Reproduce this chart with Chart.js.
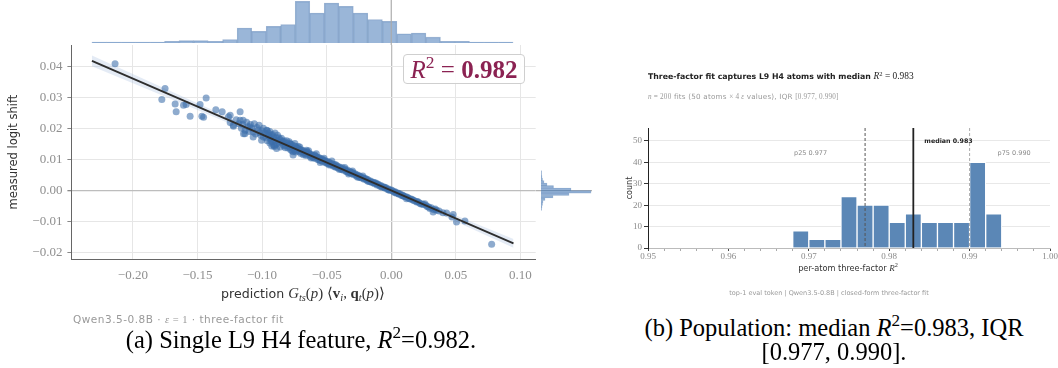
<!DOCTYPE html>
<html>
<head>
<meta charset="utf-8">
<script src="https://cdn.jsdelivr.net/npm/chart.js@4.4.1/dist/chart.umd.min.js"></script>
<style>
  body { margin: 0; width: 1058px; height: 368px; position: relative; background: #fff; overflow: hidden;
         font-family: "DejaVu Sans", sans-serif; }
  canvas, .t { position: absolute; }
  .t { white-space: nowrap; line-height: 1; }
  .c { transform: translate(-50%, -50%); }
  .l { transform: translateY(-50%); }
  .m { font-family: "Liberation Serif", serif; }
  sub { font-size: 70%; vertical-align: -0.3em; line-height: 0; }
  sup { font-size: 70%; vertical-align: 0.55em; line-height: 0; }
</style>
</head>
<body>
<canvas id="topHist" width="545" height="45" style="left:0;top:0"></canvas>
<canvas id="scatter" width="545" height="250" style="left:0;top:40px"></canvas>
<canvas id="sideHist" width="64" height="250" style="left:536px;top:40px"></canvas>
<canvas id="popHist" width="458" height="150" style="left:600px;top:120px"></canvas>

<div class="t" style="left:403px;top:54px;width:120px;height:28px;border:1px solid #cfcfcf;border-radius:4px;background:rgba(255,255,255,0.92)"></div>
<div class="t c m" style="left:464px;top:69px;font-size:25px;color:#8b2252"><i>R</i><sup>2</sup> = <b>0.982</b></div>

<div class="t c" style="left:303px;top:293px;font-size:12.6px;color:#333">prediction <span class="m" style="font-size:14.8px"><i>G</i><sub><i>ts</i></sub>(<i>p</i>) ⟨<b>v</b><sub><i>i</i></sub>, <b>q</b><sub><i>t</i></sub>(<i>p</i>)⟩</span></div>
<div class="t l" style="left:73px;top:320px;font-size:10.5px;letter-spacing:0.5px;color:#999">Qwen3.5-0.8B · <span class="m"><i>ε</i> = 1</span> · three-factor fit</div>
<div class="t c m" style="left:301px;top:340px;font-size:24.5px;color:#000">(a) Single L9 H4 feature, <i>R</i><sup>2</sup>=0.982.</div>

<div class="t l" style="left:648px;top:77px;font-size:7.8px;color:#222"><b>Three-factor fit captures L9 H4 atoms with median </b><span class="m" style="font-size:9.4px"><i>R</i><sup>2</sup> = 0.983</span></div>
<div class="t l" style="left:648px;top:97px;font-size:7.2px;letter-spacing:0.2px;color:#999"><span class="m"><i>n</i> = 200</span> fits (50 atoms <span class="m">× 4 <i>ε</i></span> values), IQR <span class="m">[0.977, 0.990]</span></div>
<div class="t c" style="left:848px;top:268px;font-size:8.2px;color:#333">per-atom three-factor <span class="m" style="font-size:9px"><i>R</i><sup>2</sup></span></div>
<div class="t c" style="left:829px;top:293px;font-size:6.5px;color:#999">top-1 eval token | Qwen3.5-0.8B | closed-form three-factor fit</div>
<div class="t c m" style="left:834px;top:328px;font-size:24.5px;color:#000">(b) Population: median <i>R</i><sup>2</sup>=0.983, IQR</div>
<div class="t c m" style="left:834px;top:352px;font-size:24.5px;color:#000">[0.977, 0.990].</div>

<script>
// ---- panel (a): single feature ----
// [prediction, measured logit shift]
const points = [
  [-0.2138, 0.0408], [-0.1776, 0.0293], [-0.1751, 0.0328], [-0.1673, 0.0278], [-0.1665, 0.0253],
  [-0.1608, 0.0274], [-0.1588, 0.0277], [-0.1557, 0.0239], [-0.1480, 0.0277], [-0.1466, 0.0239],
  [-0.1453, 0.0236], [-0.1433, 0.0298], [-0.1358, 0.0260], [-0.1309, 0.0253], [-0.1260, 0.0237],
  [-0.1247, 0.0242], [-0.1247, 0.0219], [-0.1224, 0.0210], [-0.1221, 0.0207], [-0.1170, 0.0253],
  [-0.1170, 0.0226], [-0.1147, 0.0226], [-0.1144, 0.0183], [-0.1133, 0.0183], [-0.1131, 0.0194],
  [-0.1095, 0.0205], [-0.1069, 0.0172], [-0.1023, 0.0210], [-0.1004, 0.0162], [-0.0965, 0.0194],
  [-0.0927, 0.0178], [-0.0901, 0.0146], [-0.0888, 0.0135], [-0.0837, 0.0156], [-0.0785, 0.0151],
  [-0.0760, 0.0114], [-0.0746, 0.0151], [-0.0708, 0.0140], [-0.0656, 0.0130], [-0.0630, 0.0114],
  [-0.0592, 0.0114], [-0.0553, 0.0103],
  [-0.120, 0.0228], [-0.118, 0.0215], [-0.116, 0.0200], [-0.115, 0.0212], [-0.112, 0.0220],
  [-0.110, 0.0190], [-0.108, 0.0200], [-0.106, 0.0215], [-0.105, 0.0182], [-0.103, 0.0195],
  [-0.101, 0.0178], [-0.099, 0.0200], [-0.097, 0.0170], [-0.095, 0.0184], [-0.093, 0.0158],
  [-0.0925, 0.0143], [-0.0905, 0.0142],
  [-0.098, 0.0185], [-0.096, 0.0160], [-0.095, 0.0176], [-0.094, 0.0190], [-0.093, 0.0165],
  [-0.092, 0.0158], [-0.091, 0.0172], [-0.090, 0.0185], [-0.089, 0.0150], [-0.088, 0.0162],
  [-0.087, 0.0170], [-0.086, 0.0140], [-0.085, 0.0155], [-0.084, 0.0148], [-0.083, 0.0160],
  [-0.082, 0.0138], [-0.081, 0.0152], [-0.080, 0.0145], [-0.079, 0.0140], [-0.078, 0.0132],
  [-0.077, 0.0148], [-0.076, 0.0136], [-0.075, 0.0130], [-0.074, 0.0142], [-0.073, 0.0128],
  [-0.072, 0.0135], [-0.071, 0.0125], [-0.070, 0.0131], [-0.069, 0.0122], [-0.068, 0.0127],
  [-0.067, 0.0118], [-0.066, 0.0123], [-0.065, 0.0116], [-0.064, 0.0121], [-0.063, 0.0110],
  [-0.062, 0.0117], [-0.061, 0.0107], [-0.060, 0.0112], [-0.059, 0.0104], [-0.058, 0.0109],
  [-0.057, 0.0100], [-0.056, 0.0106], [-0.055, 0.0097], [-0.054, 0.0102], [-0.053, 0.0093],
  [-0.052, 0.0098], [-0.051, 0.0090], [-0.050, 0.0094], [-0.049, 0.0087], [-0.048, 0.0091],
  [-0.047, 0.0083], [-0.046, 0.0087], [-0.045, 0.0079], [-0.044, 0.0084], [-0.043, 0.0075],
  [-0.042, 0.0080], [-0.041, 0.0072], [-0.040, 0.0076], [-0.039, 0.0069], [-0.038, 0.0073],
  [-0.037, 0.0065], [-0.036, 0.0069], [-0.035, 0.0061], [-0.034, 0.0066], [-0.033, 0.0058],
  [-0.032, 0.0062], [-0.031, 0.0054], [-0.030, 0.0058], [-0.029, 0.0051], [-0.028, 0.0054],
  [-0.027, 0.0047], [-0.026, 0.0050], [-0.025, 0.0044], [-0.024, 0.0046], [-0.023, 0.0040],
  [-0.022, 0.0042], [-0.021, 0.0036], [-0.020, 0.0039], [-0.019, 0.0033], [-0.018, 0.0035],
  [-0.017, 0.0029], [-0.016, 0.0031], [-0.015, 0.0026], [-0.014, 0.0027], [-0.013, 0.0022],
  [-0.012, 0.0024], [-0.011, 0.0018], [-0.010, 0.0020], [-0.009, 0.0015], [-0.008, 0.0016],
  [-0.007, 0.0011], [-0.006, 0.0012], [-0.005, 0.0008], [-0.004, 0.0009], [-0.003, 0.0004],
  [-0.002, 0.0005], [-0.001, 0.0001], [0.001, -0.0001], [0.002, -0.0005], [0.003, -0.0004],
  [0.004, -0.0009], [0.005, -0.0008], [0.006, -0.0012], [0.007, -0.0011], [0.008, -0.0016],
  [0.009, -0.0015], [0.010, -0.0019], [0.012, -0.0021], [0.014, -0.0026], [0.016, -0.0028],
  [0.018, -0.0033], [0.021, -0.0037], [0.023, -0.0043], [0.025, -0.0045], [0.028, -0.0052],
  [0.031, -0.0055], [0.033, -0.0062], [0.035, -0.0063],
  [-0.072, 0.0142], [-0.068, 0.0115], [-0.064, 0.0128], [-0.062, 0.0105], [-0.058, 0.0118],
  [-0.055, 0.0090], [-0.052, 0.0104], [-0.048, 0.0082], [-0.046, 0.0095], [-0.043, 0.0083],
  [-0.040, 0.0068], [-0.036, 0.0074], [-0.033, 0.0053], [-0.030, 0.0063], [-0.026, 0.0043],
  [-0.022, 0.0047], [-0.018, 0.0030], [-0.085, 0.0168], [-0.082, 0.0145], [-0.079, 0.0157],
  [-0.076, 0.0125], [-0.091, 0.0146], [-0.088, 0.0178], [-0.094, 0.0153],
  [-0.111, 0.0205], [-0.109, 0.0212], [-0.107, 0.0188], [-0.104, 0.0203], [-0.102, 0.0186],
  [-0.100, 0.0192], [-0.099, 0.0172], [-0.097, 0.0182], [-0.096, 0.0193], [-0.094, 0.0171],
  [-0.092, 0.0180], [-0.090, 0.0160], [-0.089, 0.0170], [-0.087, 0.0155], [-0.086, 0.0163],
  [-0.084, 0.0158], [-0.083, 0.0143], [-0.081, 0.0160], [-0.080, 0.0137], [-0.078, 0.0150],
  [-0.077, 0.0128], [-0.075, 0.0143], [-0.074, 0.0124], [-0.073, 0.0137], [-0.071, 0.0132],
  [-0.070, 0.0119], [-0.069, 0.0130], [-0.067, 0.0124], [-0.066, 0.0113], [-0.065, 0.0125],
  [-0.063, 0.0117], [-0.061, 0.0113], [-0.060, 0.0105], [-0.059, 0.0111], [-0.057, 0.0106],
  [-0.056, 0.0099], [-0.054, 0.0097], [-0.053, 0.0099], [-0.051, 0.0094], [-0.050, 0.0088],
  [-0.049, 0.0092], [-0.047, 0.0086], [-0.045, 0.0083], [-0.044, 0.0078], [-0.042, 0.0076],
  [-0.041, 0.0076], [-0.039, 0.0072], [-0.038, 0.0068], [-0.035, 0.0065], [-0.034, 0.0060],
  [-0.032, 0.0058], [-0.031, 0.0058], [-0.029, 0.0054], [-0.027, 0.0050], [-0.025, 0.0047],
  [-0.024, 0.0042], [-0.021, 0.0039], [-0.019, 0.0036], [-0.016, 0.0028], [-0.013, 0.0025],
  [-0.011, 0.0021], [-0.008, 0.0013], [-0.005, 0.0010], [-0.002, 0.0002], [0.000, 0.0002],
  [0.003, -0.0006], [0.006, -0.0010], [0.009, -0.0017], [0.011, -0.0020], [0.013, -0.0023],
  [0.015, -0.0027], [0.017, -0.0031], [0.020, -0.0035], [0.022, -0.0041], [0.024, -0.0043],
  [0.027, -0.0048], [0.029, -0.0053], [0.034, -0.0059], [0.037, -0.0066], [0.040, -0.0071],
  [0.047, -0.0085],
  [0.0118, -0.0026], [0.0196, -0.0037], [0.0260, -0.0042], [0.0299, -0.0058], [0.0324, -0.0069],
  [0.0428, -0.0072], [0.0479, -0.0077], [0.0505, -0.0101], [0.0570, -0.0098], [0.0777, -0.0173]
];

// fitted line and its confidence band
const fitX = [-0.2317, 0.0946];
const fitY = [0.0417, -0.0170];
const bandX = [-0.2317, -0.15, -0.08, -0.03, 0.02, 0.0946];
const bandUpper = [0.0434, 0.0281, 0.0151, 0.0060, -0.0029, -0.0156];
const bandLower = [0.0400, 0.0259, 0.0137, 0.0048, -0.0043, -0.0184];

const xTicksA = [-0.20, -0.15, -0.10, -0.05, 0.00, 0.05, 0.10];
const yTicksA = [-0.02, -0.01, 0.00, 0.01, 0.02, 0.03, 0.04];
const xRangeA = [-0.2476, 0.1118];
const yRangeA = [-0.0221, 0.0468];

// marginal histograms
const topBinStart = -0.2317, topBinWidth = 0.01124;
const topCounts = [1, 1, 1, 1, 1, 2, 3, 3, 2, 4, 18, 14, 20, 22, 50, 36, 48, 44, 36, 28, 26, 11, 12, 7, 2, 2, 1, 1, 1];
const sideBinStart = 0.0060, sideBinWidth = -0.0008;
const sideCounts = [1, 1, 2, 3, 6, 12, 25, 60, 100, 56, 24, 8, 4, 3, 2, 1];

// ---- panel (b): population ----
const binCenters = [0.969, 0.971, 0.973, 0.975, 0.977, 0.979, 0.981, 0.983, 0.985, 0.987, 0.989, 0.991, 0.993];
const binCounts = [8, 4, 4, 24, 20, 20, 12, 16, 12, 12, 12, 40, 16];
const quantiles = [0.977, 0.983, 0.990];
const quantileNames = ['p25', 'median', 'p75'];
const xTicksB = [0.95, 0.96, 0.97, 0.98, 0.99, 1.00];
const yTicksB = [0, 10, 20, 30, 40, 50];

const serif = 'Liberation Serif';
const sans = 'DejaVu Sans';
const fmt = v => (v < 0 ? '\u2212' : '') + Math.abs(v).toFixed(2);
// keep the plot areas exactly where the fixed paddings put them
const noPadV = s => { s.paddingTop = 0; s.paddingBottom = 0; };
const noPadH = s => { s.paddingLeft = 0; s.paddingRight = 0; };

// top marginal
new Chart(document.getElementById('topHist'), {
  type: 'bar',
  data: {
    datasets: [{
      data: topCounts.map((c, i) => ({ x: topBinStart + topBinWidth * (i + 0.5), y: c })),
      backgroundColor: 'rgba(125,162,205,0.78)',
      borderColor: 'rgba(80,122,175,0.55)',
      borderWidth: 0.8,
      barPercentage: 1, categoryPercentage: 1
    }]
  },
  options: {
    responsive: false, animation: false,
    layout: { padding: { left: 71.4, right: 9.3, top: 1, bottom: 2 } },
    plugins: { legend: { display: false }, tooltip: { enabled: false } },
    scales: {
      x: { type: 'linear', min: xRangeA[0], max: xRangeA[1], offset: false, display: false, grid: { offset: false } },
      y: { min: 0, max: 50.4, display: false }
    }
  },
  plugins: [{
    id: 'zeroV',
    afterDraw(chart) {
      const ctx = chart.ctx, px = chart.scales.x.getPixelForValue(0);
      ctx.save();
      ctx.strokeStyle = 'rgba(170,170,170,0.9)'; ctx.lineWidth = 1.3;
      ctx.beginPath(); ctx.moveTo(px, 0); ctx.lineTo(px, chart.height); ctx.stroke();
      ctx.restore();
    }
  }]
});

// scatter
new Chart(document.getElementById('scatter'), {
  type: 'scatter',
  data: {
    datasets: [
      { type: 'line', data: fitX.map((x, i) => ({ x, y: fitY[i] })), borderColor: '#2e2e2e', borderWidth: 1.8,
        pointRadius: 0, order: 0 },
      { data: points.map(p => ({ x: p[0], y: p[1] })), backgroundColor: 'rgba(60,110,170,0.58)',
        pointRadius: 3.5, borderWidth: 0, order: 1 },
      { type: 'line', data: bandX.map((x, i) => ({ x, y: bandUpper[i] })), borderWidth: 0, pointRadius: 0,
        fill: '+1', backgroundColor: 'rgba(165,190,222,0.3)', order: 2 },
      { type: 'line', data: bandX.map((x, i) => ({ x, y: bandLower[i] })), borderWidth: 0, pointRadius: 0,
        fill: false, order: 3 }
    ]
  },
  options: {
    responsive: false, animation: false,
    layout: { padding: { left: 0, right: 9.3, top: 5, bottom: 0 } },
    plugins: { legend: { display: false }, tooltip: { enabled: false } },
    scales: {
      x: {
        type: 'linear', min: xRangeA[0], max: xRangeA[1],
        afterBuildTicks: s => { s.ticks = xTicksA.map(v => ({ value: v })); },
        afterFit: s => { s.height = 30.7; noPadH(s); },
        ticks: { callback: fmt, font: { family: serif, size: 13 }, color: '#8f8f8f', padding: 4, maxRotation: 0 },
        grid: {
          color: c => (c.tick && c.tick.value === 0 ? '#bdbdbd' : '#e6e6e6'),
          lineWidth: c => (c.tick && c.tick.value === 0 ? 1.3 : 1),
          tickLength: 4, tickColor: 'rgba(0,0,0,0)'
        },
        border: { color: '#666', width: 1 }
      },
      y: {
        min: yRangeA[0], max: yRangeA[1],
        afterBuildTicks: s => { s.ticks = yTicksA.map(v => ({ value: v })); },
        afterFit: s => { s.width = 71.4; noPadV(s); },
        ticks: { callback: fmt, font: { family: serif, size: 13 }, color: '#8f8f8f', padding: 5 },
        grid: {
          color: c => (c.tick && c.tick.value === 0 ? '#bdbdbd' : '#e6e6e6'),
          lineWidth: c => (c.tick && c.tick.value === 0 ? 1.3 : 1),
          tickLength: 4, tickColor: '#888'
        },
        border: { color: '#666', width: 1 },
        title: { display: true, text: 'measured logit shift', font: { family: sans, size: 11.5 }, color: '#333',
                 padding: { top: 7, bottom: 0 } }
      }
    }
  }
});

// side marginal
new Chart(document.getElementById('sideHist'), {
  type: 'bar',
  data: {
    datasets: [{
      data: sideCounts.map((c, i) => ({ y: sideBinStart + sideBinWidth * i, x: c })),
      backgroundColor: 'rgba(125,162,205,0.78)',
      borderColor: 'rgba(80,122,175,0.55)',
      borderWidth: 0.6,
      barPercentage: 1, categoryPercentage: 1
    }]
  },
  options: {
    indexAxis: 'y',
    responsive: false, animation: false,
    layout: { padding: { left: 5, right: 8, top: 5, bottom: 30.7 } },
    plugins: { legend: { display: false }, tooltip: { enabled: false } },
    scales: {
      y: { type: 'linear', min: yRangeA[0], max: yRangeA[1], offset: false, display: false, grid: { offset: false } },
      x: { min: 0, max: 102, display: false }
    }
  },
  plugins: [{
    id: 'zeroH',
    beforeDatasetsDraw(chart) {
      const ctx = chart.ctx, py = chart.scales.y.getPixelForValue(0);
      ctx.save();
      ctx.strokeStyle = 'rgba(170,170,170,0.9)'; ctx.lineWidth = 1.3;
      ctx.beginPath(); ctx.moveTo(0, py); ctx.lineTo(56, py); ctx.stroke();
      ctx.restore();
    }
  }]
});

// population histogram
const markerStyle = [
  { color: '#555', width: 1, dash: [3, 2], text: '#8a8a8a', bold: false, align: 'right', dx: -38, dy: 25 },
  { color: '#222', width: 1.8, dash: [], text: '#222', bold: true, align: 'left', dx: 11, dy: 13 },
  { color: '#aaa', width: 1, dash: [3, 2], text: '#8a8a8a', bold: false, align: 'left', dx: 28, dy: 25 }
];

new Chart(document.getElementById('popHist'), {
  type: 'bar',
  data: {
    datasets: [{
      data: binCenters.map((x, i) => ({ x, y: binCounts[i] })),
      backgroundColor: '#5b87b6',
      borderColor: '#ffffff',
      borderWidth: 1,
      barPercentage: 1, categoryPercentage: 1
    }]
  },
  options: {
    responsive: false, animation: false,
    layout: { padding: { left: 18, right: 8, top: 8, bottom: 0 } },
    plugins: { legend: { display: false }, tooltip: { enabled: false } },
    scales: {
      x: {
        type: 'linear', min: 0.95, max: 1.00, offset: false,
        afterBuildTicks: s => {
          const t = [];
          for (let k = 0; k <= 25; k++) t.push({ value: 0.95 + k * 0.002 });
          s.ticks = t;
        },
        afterFit: s => { s.height = 22; noPadH(s); },
        ticks: {
          autoSkip: false, maxRotation: 0, padding: 0,
          font: { family: serif, size: 9 }, color: '#8a8a8a',
          callback: v => (xTicksB.some(t => Math.abs(t - v) < 1e-6) ? v.toFixed(2) : '')
        },
        grid: {
          offset: false, drawOnChartArea: false, tickLength: 3,
          tickColor: c => (c.tick && xTicksB.some(t => Math.abs(t - c.tick.value) < 1e-6) ? '#444' : '#aaa')
        },
        border: { color: '#bbb', width: 1 }
      },
      y: {
        min: 0, max: 56,
        afterBuildTicks: s => { s.ticks = yTicksB.map(v => ({ value: v })); },
        afterFit: s => { s.width = 30; noPadV(s); },
        ticks: { font: { family: serif, size: 9 }, color: '#8a8a8a', padding: 2 },
        grid: { color: '#e8e8e8', tickLength: 4, tickColor: '#333' },
        border: { color: '#222', width: 1 },
        title: { display: true, text: 'count', font: { family: sans, size: 8 }, color: '#333', padding: { top: 7, bottom: 0 } }
      }
    }
  },
  plugins: [{
    id: 'quantiles',
    afterDatasetsDraw(chart) {
      const { ctx, chartArea: a, scales: { x } } = chart;
      quantiles.forEach((q, i) => {
        const st = markerStyle[i], px = x.getPixelForValue(q);
        ctx.save();
        ctx.strokeStyle = st.color; ctx.lineWidth = st.width; ctx.setLineDash(st.dash);
        ctx.beginPath(); ctx.moveTo(px, a.top); ctx.lineTo(px, a.bottom); ctx.stroke();
        ctx.setLineDash([]);
        ctx.font = (st.bold ? 'bold 6.3px ' : '6.5px ') + sans;
        ctx.fillStyle = st.text; ctx.textAlign = st.align; ctx.textBaseline = 'middle';
        ctx.fillText(quantileNames[i] + ' ' + q.toFixed(3), px + st.dx, a.top + st.dy);
        ctx.restore();
      });
    }
  }]
});
</script>
</body>
</html>
